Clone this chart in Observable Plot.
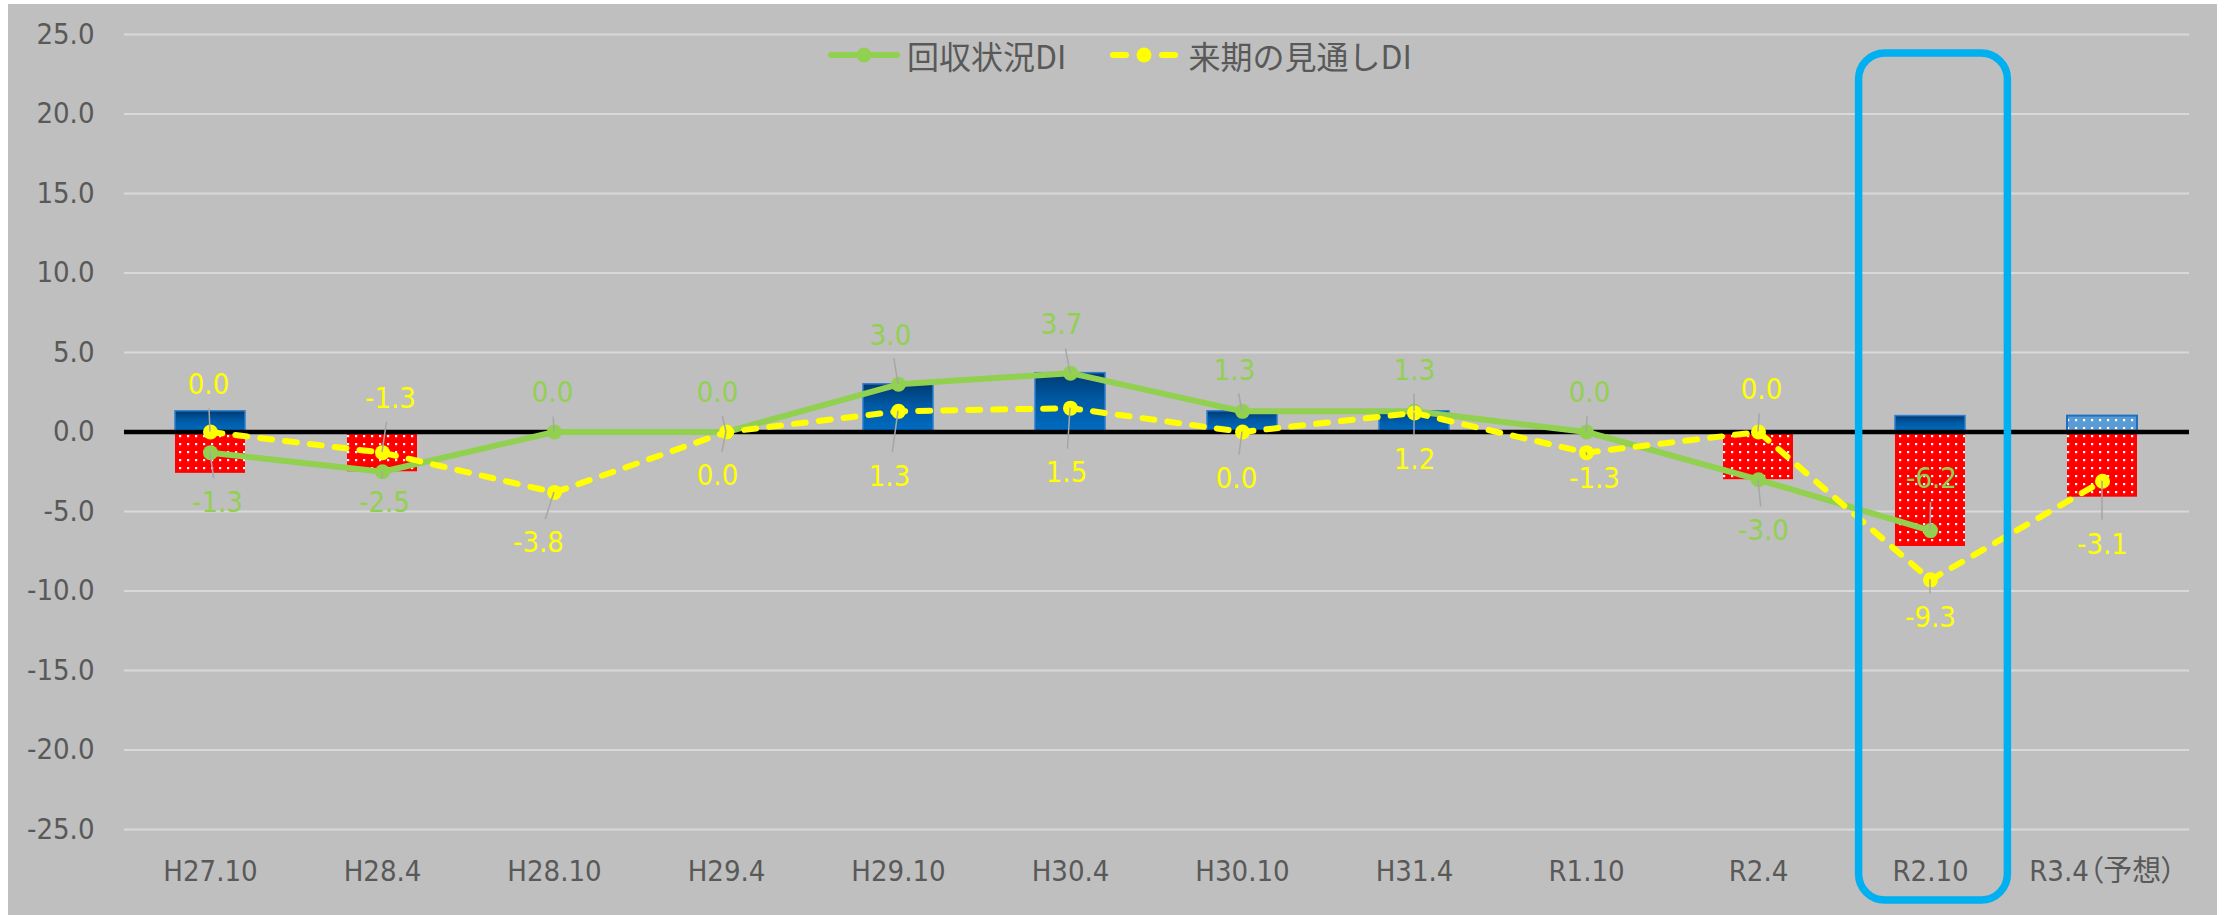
<!DOCTYPE html>
<html>
<head>
<meta charset="utf-8">
<script src="https://cdn.jsdelivr.net/npm/d3@7"></script>
<script src="https://cdn.jsdelivr.net/npm/@observablehq/plot@0.6"></script>
<style>
  html, body { margin: 0; padding: 0; background: #ffffff; }
  #chart { position: relative; width: 2224px; height: 915px; overflow: hidden; }
  #bg { position: absolute; left: 8px; top: 4px; width: 2209px; height: 911px; background: #bfbfbf; }
  #plot { position: absolute; left: 0; top: 0; }
  #plot svg text { font-feature-settings: "palt"; }
  #legend {
    position: absolute; left: 828px; top: 34px; height: 42px;
    display: flex; align-items: center;
    font-family: "Noto Sans CJK JP", sans-serif; font-size: 32px; color: #595959;
  }
  #legend .item { display: flex; align-items: center; }
  #legend svg { display: block; }
</style>
</head>
<body>
<div id="chart">
  <div id="bg"></div>
  <div id="plot"></div>
  <div id="legend"></div>
</div>
<script>
// Survey periods (x categories)
const periods = ["H27.10", "H28.4", "H28.10", "H29.4", "H29.10", "H30.4", "H30.10", "H31.4", "R1.10", "R2.4", "R2.10", "R3.4（予想）"];
// Stacked column parts: share answering "better" (positive) and "worse" (negative)
const positivePart = [1.3, 0, 0, 0, 3.0, 3.7, 1.3, 1.3, 0, 0, 1.0, 1.0];
const negativePart = [-2.6, -2.5, 0, 0, 0, 0, 0, 0, 0, -3.0, -7.2, -4.1];
// Line series
const collectionDI = [-1.3, -2.5, 0.0, 0.0, 3.0, 3.7, 1.3, 1.3, 0.0, -3.0, -6.2, null];
const outlookDI = [0.0, -1.3, -3.8, 0.0, 1.3, 1.5, 0.0, 1.2, -1.3, 0.0, -9.3, -3.1];
const seriesNames = ["回収状況DI", "来期の見通しDI"];
// Axis ticks
const yTicks = [-25, -20, -15, -10, -5, 0, 5, 10, 15, 20, 25];
const forecastPeriod = "R3.4（予想）";
const highlightPeriod = "R2.10";

// Label placement (pixel nudges from each point), kept apart from the values
const collectionLabelOffset = [[7, 50], [2, 31], [-2, -39], [-9, -39], [-8, -49], [-9, -48], [-8, -41], [0, -41], [3, -39], [5, 51], [1, -52], null];
const outlookLabelOffset = [[-2, -47], [8, -54], [-16, 50], [-9, 44], [-9, 65], [-4, 65], [-6, 47], [0, 47], [8, 26], [3, -42], [0, 38], [0, 63]];

const GREEN = "#92d050", YELLOW = "#ffff00", GRID = "#d9d9d9", TEXT = "#595959";
const FONT = '"DejaVu Sans Condensed", "Noto Sans CJK JP", sans-serif';

const rows = periods.map((p, i) => ({
  period: p, pos: positivePart[i], neg: negativePart[i],
  collection: collectionDI[i], outlook: outlookDI[i]
}));

function labelItems(values, offsets, color) {
  return periods.map((p, i) => values[i] == null ? null : {
    period: p, value: values[i], dx: offsets[i][0], dy: offsets[i][1], color
  }).filter(Boolean);
}
const labels = [
  ...labelItems(collectionDI, collectionLabelOffset, GREEN),
  ...labelItems(outlookDI, outlookLabelOffset, YELLOW)
];

// Thin grey leader lines from each point toward its label
function leaderLines(index, scales) {
  const sx = scales.x, sy = scales.y;
  const bw = sx.bandwidth ? sx.bandwidth() : 0;
  const g = d3.create("svg:g").attr("stroke", "#a6a6a6").attr("stroke-width", 1.5);
  for (const l of labels) {
    const px = sx(l.period) + bw / 2, py = sy(l.value);
    const len = Math.hypot(l.dx, l.dy);
    const t = Math.max(0, (len - 24) / len);
    if (t <= 0.05) continue;
    g.append("line").attr("x1", px).attr("y1", py)
      .attr("x2", px + l.dx * t).attr("y2", py + l.dy * t);
  }
  return g.node();
}

// Rounded frame around the highlighted period
function highlightFrame(index, scales, values, dims) {
  const sx = scales.x;
  const bw = sx.bandwidth(), step = sx.step();
  const cx = sx(highlightPeriod) + bw / 2 + 3;
  const w = step * 0.865;
  const top = dims.marginTop + 19, bottom = dims.height - 15;
  return d3.create("svg:rect")
    .attr("x", cx - w / 2).attr("y", top)
    .attr("width", w).attr("height", bottom - top)
    .attr("rx", 26).attr("ry", 26)
    .attr("fill", "none").attr("stroke", "#00b0f0").attr("stroke-width", 7.5)
    .node();
}

const plot = Plot.plot({
  width: 2224,
  height: 915,
  marginLeft: 124,
  marginRight: 35,
  marginTop: 34,
  marginBottom: 86,
  style: { background: "transparent", fontFamily: FONT, fontSize: "29px", color: TEXT, overflow: "visible" },
  x: { domain: periods, label: null, tickSize: 0, tickPadding: 31, paddingInner: 0.593, paddingOuter: 0.2965 },
  y: { domain: [-25, 25], ticks: yTicks, tickFormat: d => d.toFixed(1), tickSize: 0, tickPadding: 30, label: null },
  marks: [
    Plot.ruleY(yTicks, { stroke: GRID, strokeWidth: 2 }),
    Plot.barY(rows.filter(d => d.pos > 0 && d.period !== forecastPeriod),
      { x: "period", y: "pos", fill: "url(#blueGrad)", stroke: "#2a7fd0", strokeWidth: 1.5 }),
    Plot.barY(rows.filter(d => d.pos > 0 && d.period === forecastPeriod),
      { x: "period", y: "pos", fill: "url(#lightBlueDots)", stroke: "#1f6fc0", strokeWidth: 2 }),
    Plot.barY(rows.filter(d => d.neg < 0),
      { x: "period", y: "neg", fill: "url(#redDots)" }),
    Plot.ruleY([0], { stroke: "#000000", strokeWidth: 4.5 }),
    Plot.line(rows, { x: "period", y: "collection", stroke: GREEN, strokeWidth: 6, strokeLinejoin: "round", strokeLinecap: "round" }),
    Plot.dot(rows.filter(d => d.collection != null), { x: "period", y: "collection", r: 7.5, fill: GREEN }),
    Plot.line(rows, { x: "period", y: "outlook", stroke: YELLOW, strokeWidth: 6, strokeDasharray: "12,13", strokeLinecap: "round", strokeLinejoin: "round" }),
    Plot.dot(rows, { x: "period", y: "outlook", r: 7.5, fill: YELLOW }),
    leaderLines,
    ...labels.map(l => Plot.text([l], {
      x: "period", y: "value", text: d => d.value.toFixed(1),
      dx: l.dx, dy: l.dy, fill: l.color, fontSize: 29, fontFamily: FONT
    })),
    highlightFrame
  ]
});

plot.insertAdjacentHTML("afterbegin", `
  <defs>
    <linearGradient id="blueGrad" x1="0" y1="0" x2="0" y2="1">
      <stop offset="0" stop-color="#003a72"/>
      <stop offset="0.45" stop-color="#0059a3"/>
      <stop offset="1" stop-color="#006cc2"/>
    </linearGradient>
    <pattern id="redDots" width="8" height="8" patternUnits="userSpaceOnUse">
      <rect width="8" height="8" fill="#ff0000"/>
      <rect x="3" y="3" width="2.2" height="2.2" fill="#ffffff"/>
    </pattern>
    <pattern id="lightBlueDots" width="8" height="8" patternUnits="userSpaceOnUse">
      <rect width="8" height="8" fill="#5b9bd5"/>
      <rect x="3" y="3" width="2.2" height="2.2" fill="#ffffff"/>
    </pattern>
  </defs>`);

document.getElementById("plot").appendChild(plot);

// Legend for the two line series
const legend = d3.select("#legend");
const g1 = legend.append("div").attr("class", "item");
const s1 = g1.append("svg").attr("width", 72).attr("height", 20);
s1.append("line").attr("x1", 3).attr("x2", 69).attr("y1", 10).attr("y2", 10)
  .attr("stroke", GREEN).attr("stroke-width", 6).attr("stroke-linecap", "round");
s1.append("circle").attr("cx", 36).attr("cy", 10).attr("r", 7.5).attr("fill", GREEN);
g1.append("span").style("margin-left", "7px").text(seriesNames[0]);

const g2 = legend.append("div").attr("class", "item").style("margin-left", "44px");
const s2 = g2.append("svg").attr("width", 68).attr("height", 20);
s2.append("line").attr("x1", 3).attr("x2", 16).attr("y1", 10).attr("y2", 10)
  .attr("stroke", YELLOW).attr("stroke-width", 6).attr("stroke-linecap", "round");
s2.append("line").attr("x1", 52).attr("x2", 65).attr("y1", 10).attr("y2", 10)
  .attr("stroke", YELLOW).attr("stroke-width", 6).attr("stroke-linecap", "round");
s2.append("circle").attr("cx", 34).attr("cy", 10).attr("r", 7.5).attr("fill", YELLOW);
g2.append("span").style("margin-left", "10px").text(seriesNames[1]);
</script>
</body>
</html>
